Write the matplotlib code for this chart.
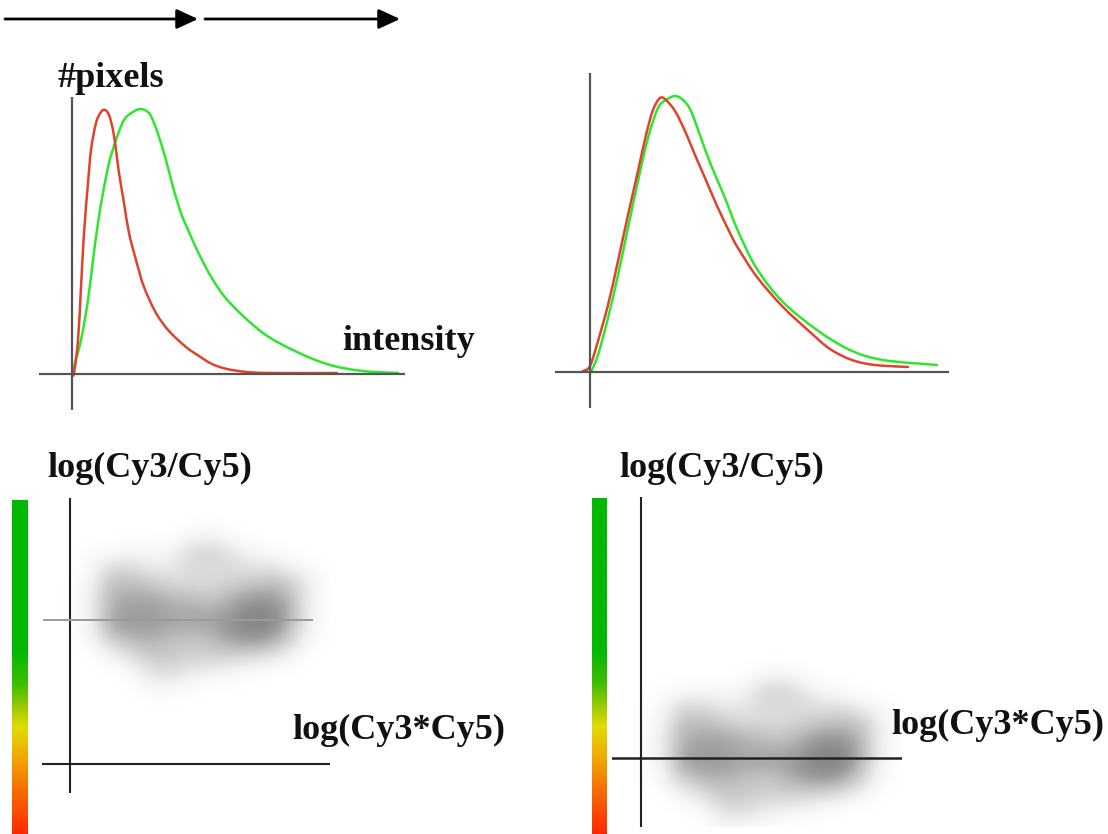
import numpy as np
import matplotlib
matplotlib.use("Agg")
import matplotlib.pyplot as plt
from matplotlib.colors import LinearSegmentedColormap
from matplotlib.path import Path
from matplotlib.patches import PathPatch

W, H = 1108, 834

# ---------------- data (arbitrary units) ----------------
# Before normalisation: histogram of pixel intensities
before_red_intensity = [0, 2, 6, 9, 12, 16, 19, 24, 29, 33, 37, 41, 44, 47, 52, 57, 64,
                        72, 84, 97, 114, 127, 140, 155, 175, 200, 265]
before_red_pixels = [0, 1, 34, 87, 141, 191, 224, 251, 262, 264, 259, 244, 224, 201, 171,
                     141, 114, 87, 61, 43, 27, 18, 10, 5, 2, 1, 1]
before_green_intensity = [0, 9, 16, 21, 26, 31, 37, 44, 52, 61, 69, 77, 82, 87, 94, 101,
                          109, 117, 127, 141, 158, 191, 225, 258, 291, 326]
before_green_pixels = [0, 34, 74, 114, 151, 181, 211, 234, 254, 262, 265, 261, 251, 237,
                       214, 187, 161, 142, 120, 94, 71, 41, 22, 9, 3, 1]

# After normalisation
after_red_intensity = [-7, 0, 8, 18, 28, 38, 48, 56, 63, 70, 76, 85, 95, 105, 115, 128,
                       141, 148, 167, 193, 220, 240, 262, 285, 318]
after_red_pixels = [1, 6, 31, 67, 111, 157, 201, 237, 262, 274, 272, 261, 241, 217, 194,
                    164, 137, 124, 95, 65, 40, 23, 12, 7, 5]
after_green_intensity = [1, 8, 18, 28, 38, 48, 58, 68, 76, 85, 93, 101, 111, 121, 135,
                         148, 167, 193, 227, 260, 293, 347]
after_green_pixels = [0, 17, 54, 97, 144, 191, 234, 264, 272, 276, 272, 261, 234, 207,
                      174, 141, 103, 70, 42, 22, 12, 7]

# MA-plot point density (rows: log ratio from high to low, cols: log product low to high)
cloud_product = [20, 40, 60, 80, 100, 120, 140, 160, 180, 200, 220, 240]
cloud_ratio = [82, 67, 52, 37, 22, 7, -8, -23, -38, -53, -68]
cloud_density = [
    [0.00, 0.00, 0.00, 0.00, 0.00, 0.10, 0.15, 0.05, 0.00, 0.00, 0.00, 0.00],
    [0.03, 0.05, 0.10, 0.08, 0.10, 0.30, 0.35, 0.25, 0.10, 0.05, 0.00, 0.00],
    [0.05, 0.30, 0.30, 0.20, 0.20, 0.30, 0.30, 0.30, 0.25, 0.25, 0.15, 0.05],
    [0.10, 0.45, 0.45, 0.40, 0.30, 0.30, 0.30, 0.35, 0.40, 0.45, 0.40, 0.15],
    [0.15, 0.50, 0.55, 0.55, 0.50, 0.45, 0.40, 0.50, 0.60, 0.60, 0.50, 0.15],
    [0.15, 0.55, 0.60, 0.60, 0.55, 0.55, 0.55, 0.60, 0.70, 0.70, 0.55, 0.15],
    [0.10, 0.55, 0.60, 0.60, 0.55, 0.55, 0.55, 0.65, 0.70, 0.70, 0.50, 0.10],
    [0.05, 0.35, 0.45, 0.50, 0.45, 0.40, 0.45, 0.55, 0.60, 0.55, 0.35, 0.05],
    [0.00, 0.10, 0.25, 0.40, 0.40, 0.35, 0.35, 0.35, 0.30, 0.25, 0.10, 0.00],
    [0.00, 0.00, 0.05, 0.25, 0.30, 0.20, 0.15, 0.10, 0.05, 0.00, 0.00, 0.00],
    [0.00, 0.00, 0.00, 0.10, 0.10, 0.05, 0.00, 0.00, 0.00, 0.00, 0.00, 0.00],
]
ratio_level_before = 144   # centre of the cloud before normalisation
ratio_level_after = 0      # centre after normalisation

# colour scale of the ratio (top = green, bottom = red)
scale_stops = [0.0, 0.45, 0.55, 0.61, 0.68, 0.77, 0.87, 1.0]
scale_colors = ["#00b900", "#00b900", "#3cbe00", "#8cc800", "#e1dc00", "#f0aa00",
                "#f56e00", "#ff2800"]

# ---------------- figure ----------------
fig = plt.figure(figsize=(W / 100, H / 100), dpi=100)
fig.patch.set_facecolor("white")


def px_axes(left, top, right, bottom):
    ax = fig.add_axes([left / W, 1 - bottom / H, (right - left) / W, (bottom - top) / H])
    ax.set_axis_off()
    return ax


def px_text(x, y, s):
    fig.text(x / W, 1 - y / H, s, family="Liberation Serif", weight="bold",
             fontsize=26, color="#111111", ha="left", va="baseline")


def smooth_curve(ax, xs, ys, color):
    """Draw a smooth (Catmull-Rom / Bezier) curve through the read points."""
    p = np.column_stack([xs, ys]).astype(float)
    verts = [p[0]]
    codes = [Path.MOVETO]
    n = len(p)
    for i in range(n - 1):
        p0 = p[i - 1] if i > 0 else p[i]
        p1, p2 = p[i], p[i + 1]
        p3 = p[i + 2] if i + 2 < n else p[i + 1]
        c1 = p1 + (p2 - p0) / 6.0
        c2 = p2 - (p3 - p1) / 6.0
        verts += [c1, c2, p2]
        codes += [Path.CURVE4] * 3
    ax.add_patch(PathPatch(Path(verts, codes), facecolor="none", edgecolor=color,
                           lw=1.8, capstyle="round", joinstyle="round"))


RED = "#e0432c"
GREEN = "#2ee62e"
AXC = "#555555"

# top arrows
ax_arr = px_axes(0, 0, 420, 40)
ax_arr.set_xlim(0, 420)
ax_arr.set_ylim(40, 0)
for x0, x1 in [(5, 198), (205, 400)]:
    ax_arr.annotate("", xy=(x1, 19), xytext=(x0, 19),
                    arrowprops=dict(arrowstyle="-|>,head_length=0.65,head_width=0.3",
                                    mutation_scale=20, lw=2.0, color="black",
                                    shrinkA=0, shrinkB=0))

# histogram before
ax1 = px_axes(39, 97, 405, 410)
ax1.set_xlim(-33, 333)
ax1.set_ylim(-36, 277)
ax1.axhline(0, color=AXC, lw=1.6)
ax1.axvline(0, color=AXC, lw=1.6)
smooth_curve(ax1, before_green_intensity, before_green_pixels, GREEN)
smooth_curve(ax1, before_red_intensity, before_red_pixels, RED)

# histogram after
ax2 = px_axes(555, 73, 949, 408)
ax2.set_xlim(-35, 359)
ax2.set_ylim(-36, 299)
ax2.axhline(0, color=AXC, lw=1.6)
ax2.axvline(0, color=AXC, lw=1.6)
smooth_curve(ax2, after_green_intensity, after_green_pixels, GREEN)
smooth_curve(ax2, after_red_intensity, after_red_pixels, RED)

# MA plots
dens = np.pad(np.array(cloud_density), 1)
step_x = cloud_product[1] - cloud_product[0]
step_y = cloud_ratio[0] - cloud_ratio[1]
x_lo = cloud_product[0] - 1.5 * step_x
x_hi = cloud_product[-1] + 1.5 * step_x
y_lo = cloud_ratio[-1] - 1.5 * step_y
y_hi = cloud_ratio[0] + 1.5 * step_y


def draw_cloud(ax, level):
    ax.imshow(dens, cmap="Greys", vmin=0, vmax=1.25, interpolation="bicubic",
              extent=[x_lo, x_hi, y_lo + level, y_hi + level], origin="upper",
              aspect="auto", zorder=1)


ax3 = px_axes(42, 498, 330, 793)
draw_cloud(ax3, ratio_level_before)
ax3.set_xlim(-28, 260)
ax3.set_ylim(-29, 266)
ax3.axhline(0, color="#222222", lw=1.5, zorder=3)
ax3.axvline(0, color="#222222", lw=1.5, zorder=3)
ax3.hlines(ratio_level_before, -27, 243, color="#9a9a9a", lw=1.4, zorder=3)

ax4 = px_axes(612, 497, 902, 827)
draw_cloud(ax4, ratio_level_after)
ax4.set_xlim(-29, 261)
ax4.set_ylim(-69, 261)
ax4.axhline(0, color="#222222", lw=1.8, zorder=3)
ax4.axvline(0, color="#222222", lw=1.5, zorder=3)

# colour scales
cmap = LinearSegmentedColormap.from_list("ratio", list(zip(scale_stops, scale_colors)))
grad = np.linspace(0, 1, 256)[:, None]
for (l, t, r, b) in [(12, 500, 28, 834), (592, 498, 607, 834)]:
    axc = px_axes(l, t, r, b)
    axc.imshow(grad, cmap=cmap, aspect="auto", origin="upper",
               extent=[0, 1, 1, 0], interpolation="bilinear")

# labels
px_text(57, 87, "#pixels")
px_text(342, 350, "intensity")
px_text(47, 477, "log(Cy3/Cy5)")
px_text(619, 477, "log(Cy3/Cy5)")
px_text(292, 739, "log(Cy3*Cy5)")
px_text(891, 734, "log(Cy3*Cy5)")

fig.savefig("out.png", dpi=100, facecolor="white")
